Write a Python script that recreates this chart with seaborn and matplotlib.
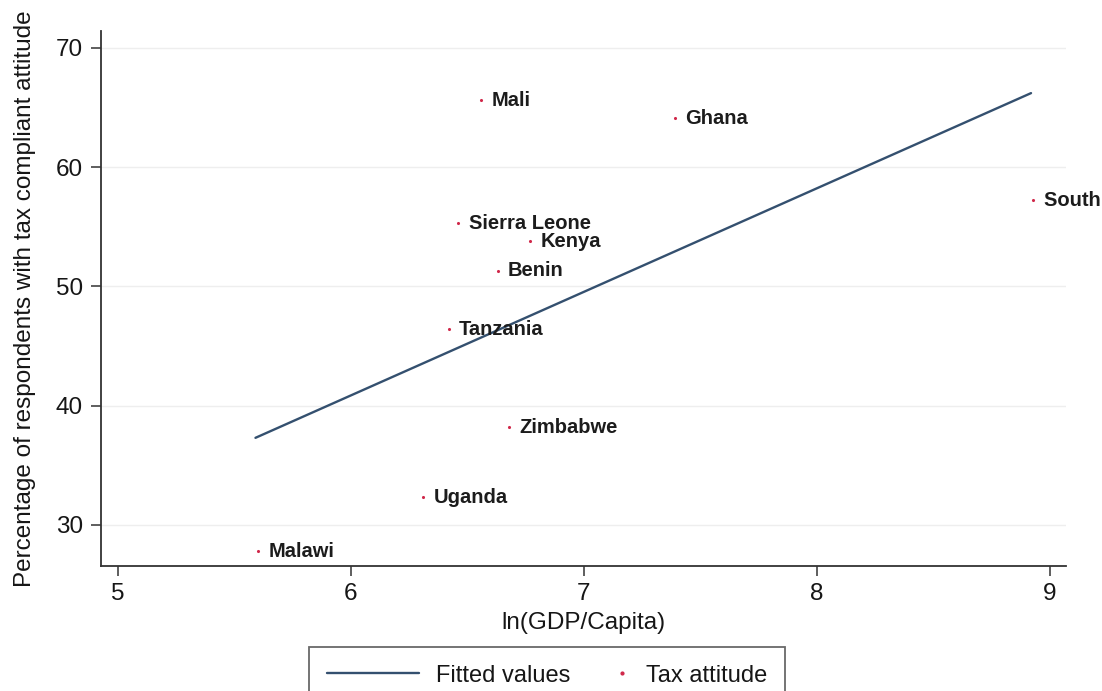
import matplotlib
matplotlib.use("Agg")
import matplotlib.pyplot as plt
import seaborn as sns
import pandas as pd
from matplotlib.lines import Line2D
from matplotlib.legend_handler import HandlerBase

# Country-level observations
countries = ["Mali", "Ghana", "South Africa", "Sierra Leone", "Kenya",
             "Benin", "Tanzania", "Zimbabwe", "Uganda", "Malawi"]
ln_gdp = [6.56, 7.39, 8.93, 6.46, 6.77, 6.63, 6.42, 6.68, 6.31, 5.60]
tax_pct = [65.6, 64.1, 57.2, 55.3, 53.8, 51.3, 46.4, 38.2, 32.3, 27.8]

# Fitted values of the linear prediction at the ends of the sample
fit_x = [5.59, 8.92]
fit_y = [37.3, 66.2]

x_ticks = [5, 6, 7, 8, 9]
y_ticks = [30, 40, 50, 60, 70]

df = pd.DataFrame({"country": countries, "ln_gdp": ln_gdp, "tax": tax_pct})
fit_df = pd.DataFrame({"x": fit_x, "y": fit_y})

sns.set_theme(style="white")
plt.rcParams["font.family"] = ["Liberation Sans", "DejaVu Sans"]

line_color = "#34506f"
dot_color = "#d0284a"
text_color = "#161616"

fig = plt.figure(figsize=(11.02, 6.91), dpi=100)
ax = fig.add_axes([0.0917, 0.181, 0.8756, 0.774])

ax.set_xlim(4.927, 9.07)
ax.set_ylim(26.56, 71.4)

for yv in y_ticks:
    ax.axhline(yv, color="#eeeeee", lw=1.0, zorder=0)

sns.lineplot(data=fit_df, x="x", y="y", ax=ax, color=line_color, lw=1.7,
             legend=False, zorder=3)
sns.scatterplot(data=df, x="ln_gdp", y="tax", ax=ax, color=dot_color, s=5,
                linewidth=0, legend=False, zorder=4)

for _, r in df.iterrows():
    ax.annotate(r["country"], (r["ln_gdp"], r["tax"]), xytext=(7.5, 0),
                textcoords="offset points", va="center", ha="left",
                fontsize=14.5, fontweight="bold", color="#1c1c1c",
                annotation_clip=False, zorder=5)

ax.set_xticks(x_ticks)
ax.set_yticks(y_ticks)
ax.tick_params(axis="both", direction="out", length=7, width=1.1,
               color="#333333", labelsize=17.5, labelcolor=text_color,
               bottom=True, left=True, pad=5)
ax.tick_params(axis="y", pad=6)
for side in ["top", "right"]:
    ax.spines[side].set_visible(False)
for side in ["left", "bottom"]:
    ax.spines[side].set_color("#333333")
    ax.spines[side].set_linewidth(1.3)

ax.set_xlabel("ln(GDP/Capita)", fontsize=17.5, color=text_color, labelpad=5)
ax.set_ylabel("Percentage of respondents with tax compliant attitude",
              fontsize=17.5, color=text_color, labelpad=14)


class RightDotHandler(HandlerBase):
    """Legend key that puts a single marker at the right end of its slot."""

    def create_artists(self, legend, orig_handle, xdescent, ydescent,
                       width, height, fontsize, trans):
        x = width - xdescent - 0.3 * fontsize
        y = height / 2.0 - ydescent
        dot = Line2D([x], [y], marker="o", ls="none",
                     color=orig_handle.get_color(),
                     markersize=orig_handle.get_markersize(),
                     transform=trans)
        return [dot]


line_handle = Line2D([0], [0], color=line_color, lw=1.7)
dot_handle = Line2D([0], [0], color=dot_color, marker="o", ls="none",
                    markersize=2)
leg = fig.legend([line_handle, dot_handle], ["Fitted values", "Tax attitude"],
                 handler_map={dot_handle: RightDotHandler()},
                 loc="upper center", bbox_to_anchor=(547 / 1102, 1 - 647 / 691),
                 ncol=2, fontsize=17, handlelength=3.9, columnspacing=-1.4,
                 handletextpad=0.72, frameon=True, fancybox=False,
                 borderpad=0.75, borderaxespad=0)
leg.get_frame().set_edgecolor("#444444")
leg.get_frame().set_linewidth(1.3)
for t in leg.get_texts():
    t.set_color(text_color)

fig.savefig("out.png", dpi=100)
